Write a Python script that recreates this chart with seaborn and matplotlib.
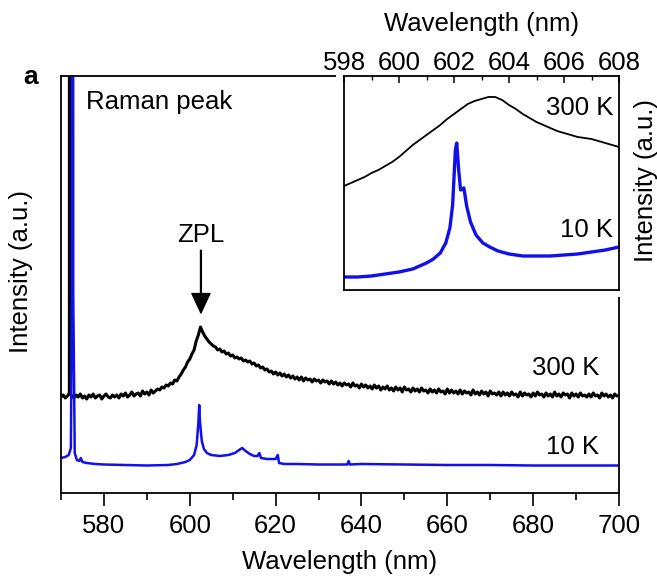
import numpy as np
import pandas as pd
import matplotlib
matplotlib.use("Agg")
import matplotlib.pyplot as plt
import seaborn as sns
from matplotlib.ticker import MultipleLocator
from matplotlib.patches import Rectangle

# ---- main panel, 300 K (black) ----
k300_head_nm = [570.0, 570.5, 571.0, 571.5, 571.95, 572.0, 572.05, 572.5]
k300_head = [96, 98, 95, 97, 100, 3000, 100, 97]
k300_nm = np.arange(573.0, 700.01, 0.5)
k300 = [
    95, 98, 96, 99, 95, 97, 94, 98, 96, 99, 95, 97, 98, 94, 97, 99, 96, 95, 98, 96,
    98, 95, 99, 97, 100, 96, 98, 101, 97, 99, 100, 97, 102, 99, 101, 98, 103, 100, 102, 104,
    103, 106, 105, 108, 107, 110, 109, 113, 112, 116, 119, 123, 126, 131, 134, 139, 143, 152, 158, 166,
    161, 157, 154, 151, 149, 147, 146, 143, 144, 141, 142, 139, 140, 137, 138, 135, 136, 134, 135, 132,
    133, 131, 132, 129, 130, 127, 128, 125, 126, 123, 124, 121, 122, 119, 121, 118, 120, 117, 119, 116,
    118, 115, 117, 114, 116, 113, 116, 112, 115, 113, 114, 111, 114, 112, 113, 110, 113, 111, 112, 109,
    112, 109, 111, 108, 110, 107, 110, 108, 109, 106, 110, 107, 108, 105, 109, 106, 108, 105, 107, 104,
    108, 105, 107, 103, 106, 104, 107, 103, 105, 102, 106, 103, 105, 101, 106, 103, 104, 101, 105, 102,
    104, 101, 105, 102, 103, 100, 104, 101, 103, 100, 104, 101, 102, 99, 104, 100, 103, 100, 102, 99,
    103, 99, 102, 100, 101, 98, 103, 99, 101, 98, 102, 99, 101, 97, 102, 99, 100, 98, 101, 97,
    101, 98, 100, 97, 101, 98, 99, 96, 101, 97, 100, 98, 99, 96, 100, 97, 101, 98, 99, 96,
    100, 97, 99, 96, 101, 97, 99, 96, 100, 98, 99, 95, 100, 97, 99, 96, 100, 97, 98, 96,
    99, 96, 100, 97, 98, 95, 100, 97, 99, 96, 98, 95, 99, 97, 98,
]

# ---- main panel, 10 K (blue) ----
k10_nm = [570, 571, 571.8, 572.3, 572.55, 572.7, 572.85, 573.2, 573.7, 574.3, 574.6, 575,
          576, 578, 580, 585, 590, 595, 597, 599, 600, 601, 601.6, 602.0, 602.2, 602.4,
          602.8, 603.3, 604, 605, 607, 609, 610.5, 611.5, 612.2, 613, 614, 615, 615.8,
          616.2, 616.6, 618, 620, 620.5, 620.8, 622, 625, 630, 636.7, 637, 637.3, 640,
          650, 660, 670, 680, 690, 700]
k10 = [35, 36, 38, 45, 200, 3000, 200, 40, 33, 32, 35, 31,
       30, 29, 28.5, 28, 27.5, 28, 29, 31, 33, 38, 48, 70, 88, 70,
       52, 44, 40, 38, 37, 38, 40, 43, 45, 42, 39, 37, 37,
       40, 35, 34, 34, 38, 30, 29, 29, 28.5, 28.5, 32, 28.5, 29,
       28.5, 28, 28, 27.5, 27.5, 27.5]

# ---- inset ----
in300_nm = [598, 598.25, 598.5, 598.75, 599, 599.25, 599.5, 599.75, 600, 600.25,
            600.5, 600.75, 601, 601.25, 601.5, 601.75, 602, 602.25, 602.5, 602.75,
            603, 603.25, 603.5, 603.75, 604, 604.25, 604.5, 604.75, 605, 605.25,
            605.5, 605.75, 606, 606.25, 606.5, 606.75, 607, 607.25, 607.5, 607.75, 608]
in300 = [104, 107, 110, 113, 117, 120, 124, 128, 133, 139,
         145, 150, 155, 160, 165, 171, 176, 181, 186, 189,
         191, 193, 193, 190, 185, 181, 176, 172, 168, 165,
         162, 159, 157, 155, 153, 152, 151, 149, 147, 145, 143]
in10_nm = [598, 598.5, 599, 599.5, 600, 600.5, 601, 601.25, 601.5, 601.7, 601.85,
           601.95, 602.05, 602.1, 602.17, 602.24, 602.3, 602.36, 602.46, 602.6,
           602.8, 603.05, 603.3, 603.6, 604, 604.5, 605, 605.5, 606, 606.5, 607,
           607.5, 608]
in10 = [13, 13, 14, 16, 18, 21, 27, 31, 37, 47, 62,
        85, 140, 147, 120, 100, 101, 102, 84, 68,
        55, 47, 43, 39, 36, 34, 34, 34, 35, 36, 38,
        40, 43]

sns.set_style("ticks")
plt.rcParams['font.family'] = ['Liberation Sans', 'DejaVu Sans']
plt.rcParams['text.color'] = 'black'
plt.rcParams['axes.labelcolor'] = 'black'
plt.rcParams['xtick.color'] = 'black'
fs = 18.5

fig = plt.figure(figsize=(6.57, 5.8), dpi=100)
ax = fig.add_axes([61/657, 1-493/580, 558/657, 417/580])

main300 = pd.DataFrame({'nm': np.concatenate([k300_head_nm, k300_nm]),
                        'I': np.concatenate([k300_head, k300])})
main10 = pd.DataFrame({'nm': k10_nm, 'I': k10})
sns.lineplot(data=main300, x='nm', y='I', ax=ax, color='black', lw=2.2,
             estimator=None, sort=False)
sns.lineplot(data=main10, x='nm', y='I', ax=ax, color='#1010ee', lw=1.8,
             estimator=None, sort=False)

ax.set_xlim(570, 700)
ax.set_ylim(0, 417)
ax.set_yticks([])
ax.xaxis.set_major_locator(MultipleLocator(20))
ax.xaxis.set_minor_locator(MultipleLocator(10))
ax.tick_params(axis='x', which='major', direction='out', length=9, width=1.2,
               labelsize=fs, pad=6)
ax.tick_params(axis='x', which='minor', direction='out', length=5, width=1.2)
for s in ax.spines.values():
    s.set_linewidth(1.3)
    s.set_color('black')
ax.set_xlabel('Wavelength (nm)', fontsize=fs, labelpad=9)
ax.set_ylabel('Intensity (a.u.)', fontsize=fs)
ax.yaxis.set_label_coords(-0.05, 0.53)

ax.text(575.8, 391, 'Raman peak', fontsize=fs, ha='left', va='center')
ax.annotate('ZPL', xy=(602.6, 180), xytext=(602.6, 258), fontsize=fs,
            ha='center', va='center',
            arrowprops=dict(facecolor='black', edgecolor='black', width=0.6,
                            headwidth=13, headlength=14, shrink=0.0))
ax.text(695.4, 125, '300 K', fontsize=fs, ha='right', va='center')
ax.text(695.4, 46, '10 K', fontsize=fs, ha='right', va='center')

# white margin around the inset
fig.add_artist(Rectangle((336/657, 1-297/580), (640-336)/657, (297-40)/580,
                         transform=fig.transFigure, facecolor='white',
                         edgecolor='none', zorder=1))

ins = fig.add_axes([344/657, 1-290/580, 275/657, 214/580], zorder=2)
ins300 = pd.DataFrame({'nm': in300_nm, 'I': in300})
ins10 = pd.DataFrame({'nm': in10_nm, 'I': in10})
sns.lineplot(data=ins300, x='nm', y='I', ax=ins, color='black', lw=1.3,
             estimator=None, sort=False)
sns.lineplot(data=ins10, x='nm', y='I', ax=ins, color='#1010ee', lw=2.4,
             estimator=None, sort=False)
ins.set_xlim(598, 608)
ins.set_ylim(0, 214)
ins.set_yticks([])
ins.xaxis.tick_top()
ins.xaxis.set_label_position('top')
ins.xaxis.set_major_locator(MultipleLocator(2))
ins.xaxis.set_minor_locator(MultipleLocator(1))
ins.tick_params(axis='x', which='major', direction='in', length=5, width=1.1,
                labelsize=fs, pad=1, top=True, bottom=False)
ins.tick_params(axis='x', which='minor', direction='in', length=3, width=1.0,
                top=True, bottom=False)
for s in ins.spines.values():
    s.set_linewidth(1.3)
    s.set_color('black')
ins.set_xlabel('Wavelength (nm)', fontsize=fs, labelpad=14)
ins.yaxis.set_label_position('right')
ins.set_ylabel('Intensity (a.u.)', fontsize=fs)
ins.yaxis.set_label_coords(1.055, 0.51)
ins.text(607.8, 182, '300 K', fontsize=fs, ha='right', va='center')
ins.text(607.8, 60, '10 K', fontsize=fs, ha='right', va='center')

fig.text(31/657, 1-77/580, 'a', fontsize=19, fontweight='bold',
         ha='center', va='center')

fig.savefig('out.png', dpi=100)
